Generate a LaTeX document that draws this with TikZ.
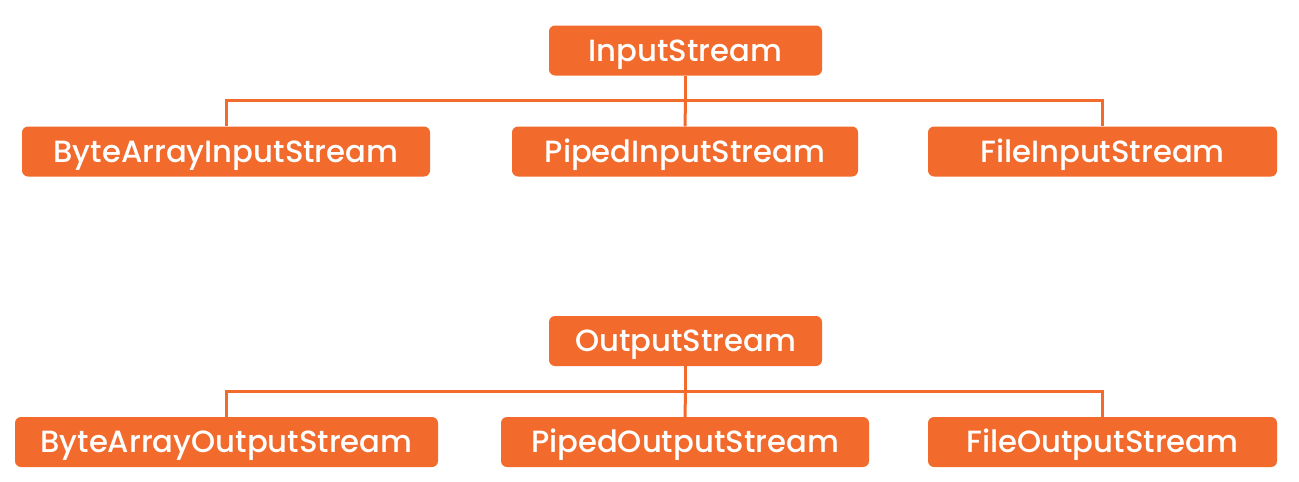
\documentclass[tikz,border=0pt]{standalone}
\usepackage{fontspec}
\setmainfont{Poppins}[BoldFont=* Medium]
\definecolor{org}{HTML}{F26A2C}
\begin{document}
\begin{tikzpicture}[x=1pt,y=-1pt,
  box/.style={fill=org,rounded corners=6pt,inner sep=0pt,text=white,font=\fontsize{30.7}{32}\selectfont\bfseries,text height=21pt,text depth=0pt,minimum height=50pt,anchor=center},
  link/.style={draw=org,line width=3pt}]
\useasboundingbox (0,0) rectangle (1299,482);
% Input
\node[box,minimum width=273pt] (in) at (685.5,50.5) {InputStream};
\node[box,minimum width=408pt] (bain) at (226,151.5) {ByteArrayInputStream};
\node[box,minimum width=346pt] (pin) at (685,151.5) {PipedInputStream};
\node[box,minimum width=349pt] (fin) at (1102.5,151.5) {FileInputStream};
\coordinate (jin) at (685.5,100);
\draw[link] (in.south) -- (jin);
\draw[link] (bain.north) |- (jin) -| (fin.north);
\draw[link] (jin) -- (pin.north);
% Output
\node[box,minimum width=273pt] (out) at (685.5,341) {OutputStream};
\node[box,minimum width=423pt] (baout) at (226.5,442) {ByteArrayOutputStream};
\node[box,minimum width=368pt] (pout) at (685,442) {PipedOutputStream};
\node[box,minimum width=349pt] (fout) at (1102.5,442) {FileOutputStream};
\coordinate (jout) at (685.5,391);
\draw[link] (out.south) -- (jout);
\draw[link] (baout.north) |- (jout) -| (fout.north);
\draw[link] (jout) -- (pout.north);
\end{tikzpicture}
\end{document}
